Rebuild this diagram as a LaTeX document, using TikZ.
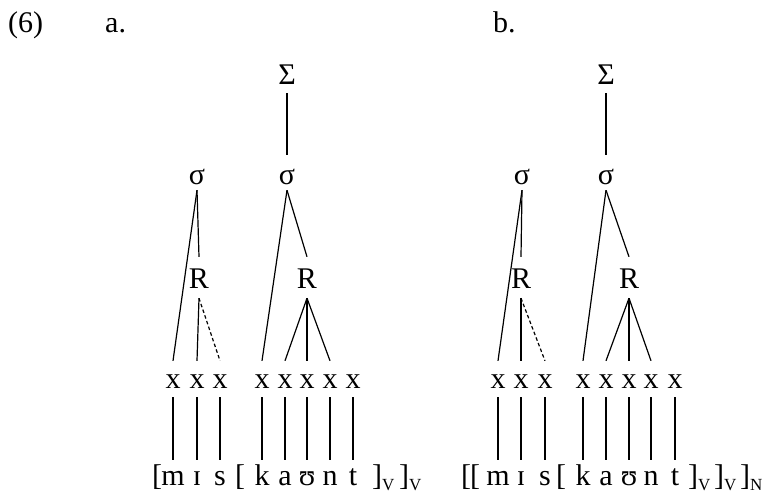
\documentclass[tikz,border=0pt]{standalone}
\usepackage{fontspec}
\setmainfont{Liberation Serif}
\newcommand{\lowsub}[1]{\raisebox{-5pt}{\fontsize{17}{17}\selectfont #1}}
\tikzset{
  lbl/.style={inner sep=0pt, anchor=base, font=\fontsize{30}{32}\selectfont},
  sigbig/.style={lbl, text depth=8pt},
  syl/.style={lbl, text height=30pt, text depth=5pt},
  rime/.style={lbl, text height=32pt, text depth=9pt},
  skel/.style={lbl, text height=27pt, text depth=9pt},
  seg/.style={lbl, text height=25pt, text depth=0pt},
  brk/.style={lbl},
  edge/.style={line width=1.2pt},
  dedge/.style={edge, dash pattern=on 3.5pt off 2.5pt},
}
\begin{document}
\begin{tikzpicture}[x=1pt,y=-1pt]
\useasboundingbox (0,0) rectangle (777,497);
% headings
\node[lbl, anchor=base west] (num) at (8,33) {(6)};
\node[lbl, anchor=base west] (la) at (105,33) {a.};
\node[lbl, anchor=base west] (lb) at (493,33) {b.};

% ---------- tree a ----------
\node[sigbig] (Sa) at (287,85) {Σ};
\node[syl] (s1a) at (197,185) {σ};
\node[syl] (s2a) at (287,185) {σ};
\node[rime] (r1a) at (199,289) {R};
\node[rime] (r2a) at (307,289) {R};
\foreach \i/\px in {1/173,2/197,3/220,4/262,5/285,6/307,7/330,8/353}{
  \node[skel] (xa\i) at (\px,388) {x};
}
\node[seg] (ta1) at (173,485) {m};
\node[seg] (ta2) at (197,485) {ɪ};
\node[seg] (ta3) at (220,485) {s};
\node[seg] (ta4) at (262,485) {k};
\node[seg] (ta5) at (285,485) {a};
\node[seg] (ta6) at (307,485) {ʊ};
\node[seg] (ta7) at (330,485) {n};
\node[seg] (ta8) at (353,485) {t};
\node[brk] (ba1) at (157,485) {[};
\node[brk] (ba2) at (240,485) {[};
\node[brk, anchor=base west] (ba3) at (372,485) {]\lowsub{V}};
\node[brk, anchor=base west] (ba4) at (399,485) {]\lowsub{V}};

\draw[edge] (Sa.south) -- (s2a.north);
\draw[edge] (s1a.south) -- (xa1.north);
\draw[edge] (s1a.south) -- (r1a.north);
\draw[edge] (r1a.south) -- (xa2.north);
\draw[dedge] (r1a.south) -- (xa3.north);
\draw[edge] (s2a.south) -- (xa4.north);
\draw[edge] (s2a.south) -- (r2a.north);
\draw[edge] (r2a.south) -- (xa5.north);
\draw[edge] (r2a.south) -- (xa6.north);
\draw[edge] (r2a.south) -- (xa7.north);
\foreach \i in {1,...,8}{ \draw[edge] (xa\i.south) -- (ta\i.north); }

% ---------- tree b ----------
\node[sigbig] (Sb) at (606,85) {Σ};
\node[syl] (s1b) at (522,185) {σ};
\node[syl] (s2b) at (606,185) {σ};
\node[rime] (r1b) at (521,289) {R};
\node[rime] (r2b) at (629,289) {R};
\foreach \i/\px in {1/498,2/521,3/545,4/583,5/606,6/629,7/651,8/675}{
  \node[skel] (xb\i) at (\px,388) {x};
}
\node[seg] (tb1) at (498,485) {m};
\node[seg] (tb2) at (521,485) {ɪ};
\node[seg] (tb3) at (545,485) {s};
\node[seg] (tb4) at (583,485) {k};
\node[seg] (tb5) at (606,485) {a};
\node[seg] (tb6) at (629,485) {ʊ};
\node[seg] (tb7) at (651,485) {n};
\node[seg] (tb8) at (675,485) {t};
\node[brk] (bb1) at (466,485) {[};
\node[brk] (bb2) at (475,485) {[};
\node[brk] (bb3) at (561,485) {[};
\node[brk, anchor=base west] (bb4) at (688,485) {]\lowsub{V}};
\node[brk, anchor=base west] (bb5) at (714,485) {]\lowsub{V}};
\node[brk, anchor=base west] (bb6) at (740,485) {]\lowsub{N}};

\draw[edge] (Sb.south) -- (s2b.north);
\draw[edge] (s1b.south) -- (xb1.north);
\draw[edge] (s1b.south) -- (r1b.north);
\draw[edge] (r1b.south) -- (xb2.north);
\draw[dedge] (r1b.south) -- (xb3.north);
\draw[edge] (s2b.south) -- (xb4.north);
\draw[edge] (s2b.south) -- (r2b.north);
\draw[edge] (r2b.south) -- (xb5.north);
\draw[edge] (r2b.south) -- (xb6.north);
\draw[edge] (r2b.south) -- (xb7.north);
\foreach \i in {1,...,8}{ \draw[edge] (xb\i.south) -- (tb\i.north); }
\end{tikzpicture}
\end{document}
